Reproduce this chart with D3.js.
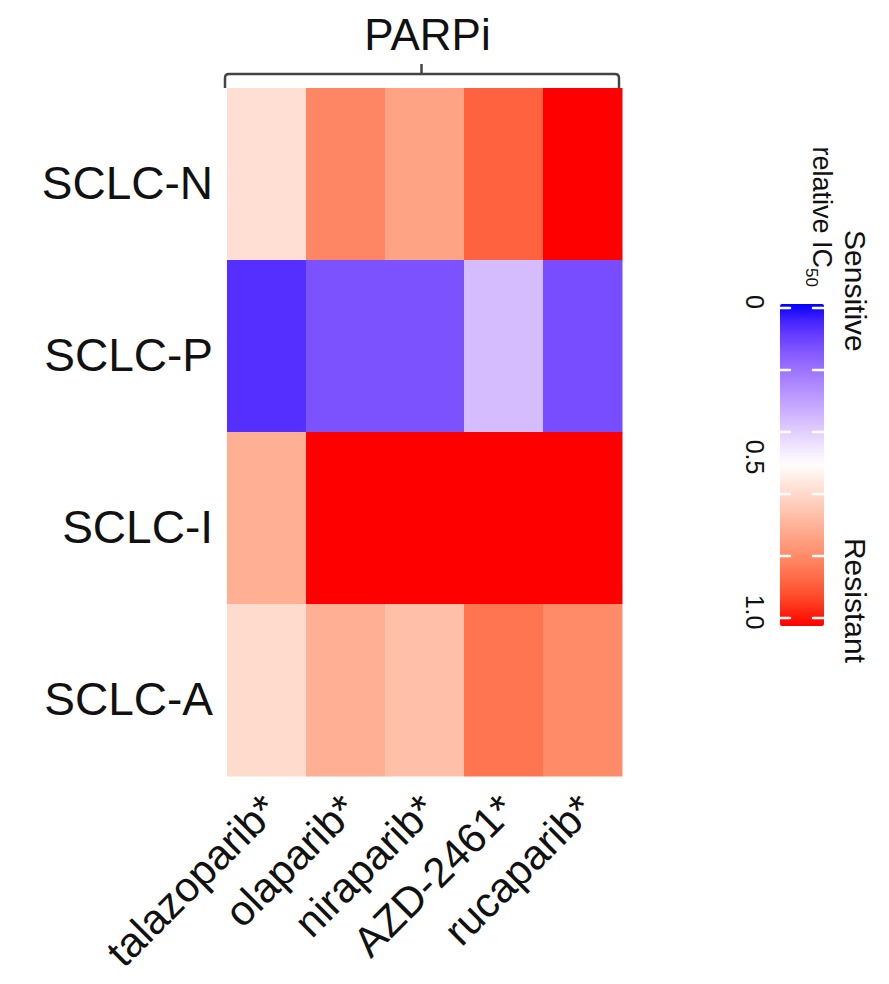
<!DOCTYPE html>
<html>
<head>
<meta charset="utf-8">
<script src="https://cdn.jsdelivr.net/npm/d3@7"></script>
<style>
  html, body { margin: 0; padding: 0; background: #ffffff; }
  svg { display: block; }
  text { font-family: "Liberation Sans", Arial, sans-serif; fill: #111; }
</style>
</head>
<body>
<svg id="chart" width="889" height="984"></svg>
<script>
// ---- data ----
const drugs = ["talazoparib*", "olaparib*", "niraparib*", "AZD-2461*", "rucaparib*"];
const subtypes = ["SCLC-N", "SCLC-P", "SCLC-I", "SCLC-A"];
const valuesN = [0.585, 0.81, 0.74, 0.89, 1.00];
const valuesP = [0.06, 0.13, 0.13, 0.36, 0.12];
const valuesI = [0.71, 1.00, 1.00, 1.00, 1.00];
const valuesA = [0.595, 0.71, 0.67, 0.85, 0.80];
const groupLabel = "PARPi";
const legendTickMarks = [0, 0.2, 0.4, 0.6, 0.8, 1.0];
const legendLabelValues = [0, 0.5, 1.0];
const legendLabelTexts = ["0", "0.5", "1.0"];

const valueRows = [valuesN, valuesP, valuesI, valuesA];
const cells = [];
subtypes.forEach((s, i) => drugs.forEach((d, j) => cells.push({ s, d, v: valueRows[i][j] })));

// ---- layout ----
const svg = d3.select("#chart");
svg.append("rect").attr("width", 889).attr("height", 984).attr("fill", "#fff");

const x = d3.scaleBand().domain(drugs).range([227, 622]);
const y = d3.scaleBand().domain(subtypes).range([88, 776]);
const color = d3.scaleLinear().domain([0, 0.5, 1])
  .range(["#0000ff", "#ffffff", "#ff0000"])
  .interpolate(d3.interpolateLab);

// heatmap cells
svg.append("g").selectAll("rect").data(cells).join("rect")
  .attr("x", d => x(d.d))
  .attr("y", d => y(d.s))
  .attr("width", x.bandwidth() + 0.5)
  .attr("height", y.bandwidth() + 0.5)
  .attr("fill", d => color(d.v));

// row labels
svg.append("g").selectAll("text").data(subtypes).join("text")
  .attr("x", 213)
  .attr("y", d => y(d) + y.bandwidth() / 2 + 9)
  .attr("text-anchor", "end")
  .attr("dominant-baseline", "central")
  .attr("font-size", 46)
  .text(d => d);

// column labels
svg.append("g").selectAll("text").data(drugs).join("text")
  .attr("transform", d => `translate(${x(d) + x.bandwidth() / 2 + 4},${802}) rotate(-45)`)
  .attr("text-anchor", "end")
  .attr("dominant-baseline", "central")
  .attr("font-size", 42)
  .text(d => d);

// group bracket
const x0 = x.range()[0] - 2, x1 = x.range()[1] - 3, xm = (x.range()[0] + x.range()[1]) / 2 - 3;
const yb = 74, yEnd = 88, r = 4;
svg.append("path")
  .attr("d", `M${x0},${yEnd} L${x0},${yb + r} Q${x0},${yb} ${x0 + r},${yb} L${x1 - r},${yb} Q${x1},${yb} ${x1},${yb + r} L${x1},${yEnd}`)
  .attr("fill", "none").attr("stroke", "#444").attr("stroke-width", 2.5);
svg.append("line")
  .attr("x1", xm).attr("x2", xm).attr("y1", yb).attr("y2", 64)
  .attr("stroke", "#444").attr("stroke-width", 2.5);
svg.append("text")
  .attr("x", xm + 6).attr("y", 50)
  .attr("text-anchor", "middle")
  .attr("font-size", 44)
  .text(groupLabel);

// ---- legend ----
const lg = svg.append("g");
const ly = d3.scaleLinear().domain([0, 1]).range([308, 618]);
const barX = 780, barW = 44, barTop = 304, barBot = 626;
const grad = svg.append("defs").append("linearGradient")
  .attr("id", "lgGrad").attr("x1", 0).attr("y1", 0).attr("x2", 0).attr("y2", 1);
d3.range(0, 1.0001, 0.05).forEach(t => {
  const v = ly.invert(barTop + t * (barBot - barTop));
  grad.append("stop").attr("offset", t).attr("stop-color", color(Math.max(0, Math.min(1, v))));
});
lg.append("rect")
  .attr("x", barX).attr("y", barTop).attr("width", barW).attr("height", barBot - barTop)
  .attr("rx", 2)
  .attr("fill", "url(#lgGrad)");
lg.selectAll("line.tl").data(legendTickMarks).join("line")
  .attr("x1", barX).attr("x2", barX + 10)
  .attr("y1", d => ly(d)).attr("y2", d => ly(d))
  .attr("stroke", "#fff").attr("stroke-width", 2.5).attr("stroke-linecap", "round");
lg.selectAll("line.tr").data(legendTickMarks).join("line")
  .attr("x1", barX + barW - 11).attr("x2", barX + barW)
  .attr("y1", d => ly(d)).attr("y2", d => ly(d))
  .attr("stroke", "#fff").attr("stroke-width", 2.5).attr("stroke-linecap", "round");
lg.selectAll("text.lab").data(legendLabelValues).join("text")
  .attr("transform", d => `translate(746,${ly(d) - 6}) rotate(90)`)
  .attr("text-anchor", "middle")
  .attr("font-size", 25)
  .text((d, i) => legendLabelTexts[i]);

const title = lg.append("text")
  .attr("transform", `translate(813,287) rotate(90)`)
  .attr("text-anchor", "end")
  .attr("font-size", 27);
title.append("tspan").text("relative IC");
title.append("tspan").attr("font-size", 17).attr("dy", 7).text("50");

lg.append("text")
  .attr("transform", `translate(845,230) rotate(90)`)
  .attr("text-anchor", "start")
  .attr("font-size", 30)
  .text("Sensitive");
lg.append("text")
  .attr("transform", `translate(845,663) rotate(90)`)
  .attr("text-anchor", "end")
  .attr("font-size", 30)
  .text("Resistant");
</script>
</body>
</html>
